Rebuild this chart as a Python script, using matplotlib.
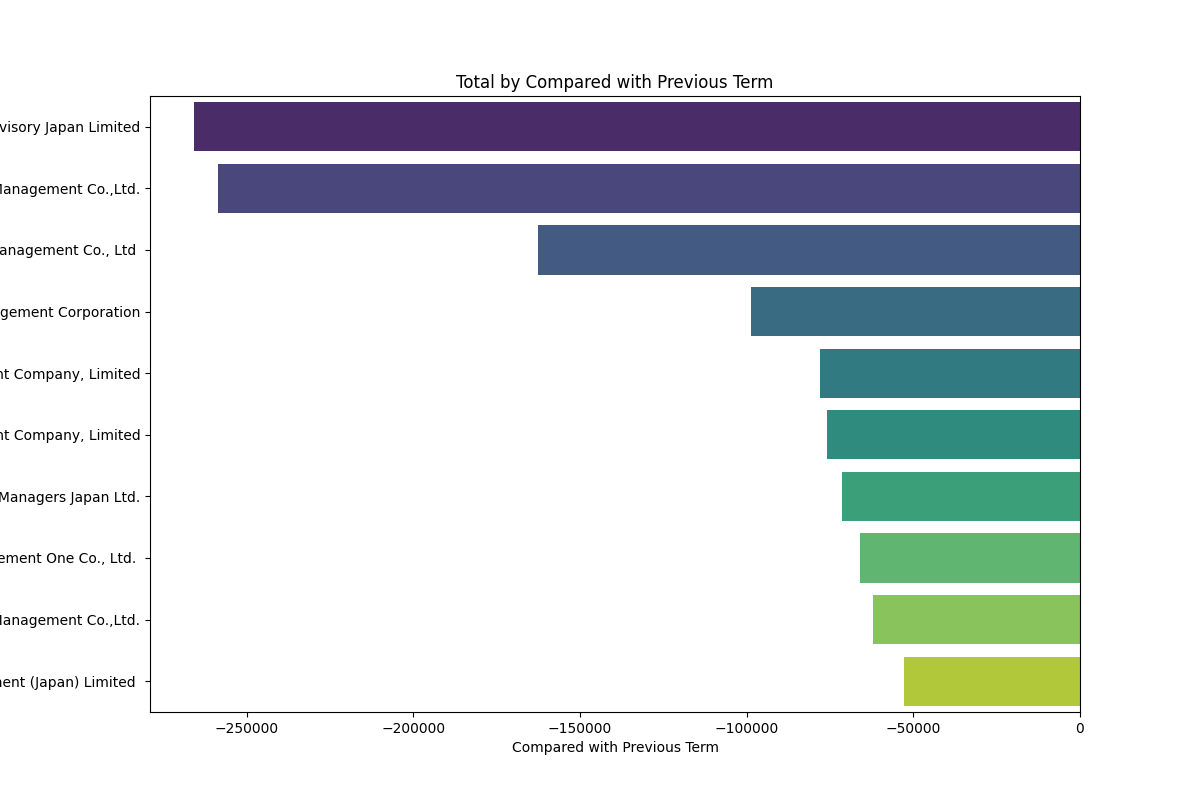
import matplotlib
matplotlib.use("Agg")
import matplotlib.pyplot as plt
import seaborn as sns

# companies, sorted by change (largest drop first)
companies = [
    "Wellington Management Advisory Japan Limited",
    "Nomura Asset Management Co.,Ltd.",
    "Nikko Asset Management Co., Ltd ",
    "Mitsubishi UFJ Kokusai Asset Management Corporation",
    "Sumitomo Mitsui DS Asset Management Company, Limited",
    "Sumitomo Mitsui Trust Asset Management Company, Limited",
    "Fidelity Investment Managers Japan Ltd.",
    "Asset Management One Co., Ltd. ",
    "Daiwa Asset Management Co.,Ltd.",
    "Goldman Sachs Asset Management (Japan) Limited ",
]
change = [-265700, -258600, -162600, -98700, -78000,
          -75900, -71400, -66000, -62100, -52800]

fig = plt.figure(figsize=(12, 8), dpi=100)
ax = sns.barplot(x=change, y=companies, hue=companies, palette="viridis",
                 legend=False, orient="h")
ax.set_title("Total by Compared with Previous Term")
ax.set_xlabel("Compared with Previous Term")
ax.set_ylabel("")
plt.savefig("out.png")
